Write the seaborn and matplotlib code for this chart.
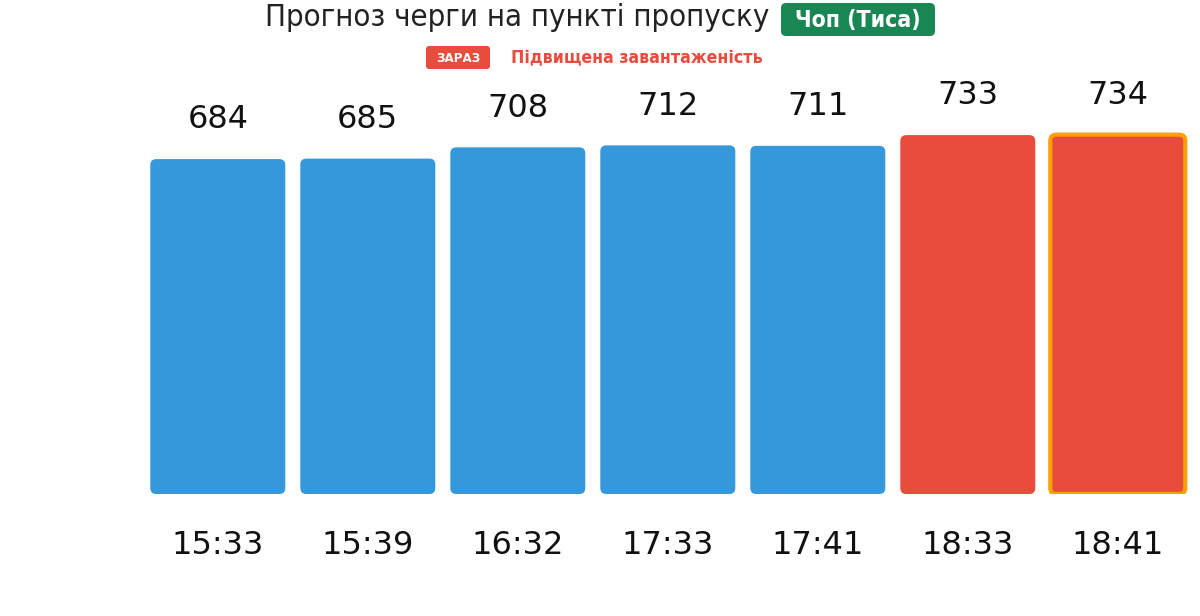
import matplotlib
matplotlib.use('Agg')
import matplotlib.pyplot as plt
import seaborn as sns
import pandas as pd
from matplotlib.patches import FancyBboxPatch

# Chart data
times = ['15:33', '15:39', '16:32', '17:33', '17:41', '18:33', '18:41']
queue = [684, 685, 708, 712, 711, 733, 734]
level = ['normal', 'normal', 'normal', 'normal', 'normal', 'high', 'high']
current_idx = 6

title = 'Прогноз черги на пункті пропуску'
checkpoint = 'Чоп (Тиса)'
now_badge = 'ЗАРАЗ'
status = 'Підвищена завантаженість'

colors = {'normal': '#3498db', 'high': '#e74c3c'}

df = pd.DataFrame({'time': times, 'queue': queue, 'level': level})

sns.set_theme(style='white')
plt.rcParams['font.family'] = ['DejaVu Sans']

W, H = 1200, 616
fig = plt.figure(figsize=(W / 100, H / 100), dpi=100)
ax = fig.add_axes([0.119, 0.198, 0.875, 0.671])

sns.barplot(data=df, x='time', y='queue', hue='level', palette=colors,
            dodge=False, width=0.9, saturation=1, legend=False, ax=ax)

ax.set_xlim(-0.5, len(times) - 0.5)
ax.set_ylim(0, max(queue) * 1.15)

# value labels above the bars
for cont in ax.containers:
    ax.bar_label(cont, padding=17, fontsize=23, color='#111111')

# swap the plain rectangles for rounded ones
fig.canvas.draw()
p0 = ax.transData.transform((0, 0))
p1 = ax.transData.transform((1, 1))
px_x = p1[0] - p0[0]
px_y = p1[1] - p0[1]
radius_px = 6
rx = radius_px / px_x
aspect = (radius_px / px_y) / rx

for bar in list(ax.patches):
    x, y = bar.get_x(), bar.get_y()
    w, h = bar.get_width(), bar.get_height()
    fc = bar.get_facecolor()
    bar.set_visible(False)
    is_now = abs(x + w / 2 - current_idx) < 0.1
    fb = FancyBboxPatch((x, y), w, h,
                        boxstyle=f'round,pad=0,rounding_size={rx}',
                        mutation_aspect=aspect, facecolor=fc,
                        edgecolor='#ffa000' if is_now else 'none',
                        linewidth=3 if is_now else 0, zorder=3)
    ax.add_patch(fb)

sns.despine(ax=ax, left=True, bottom=True)
ax.set_xlabel('')
ax.set_ylabel('')
ax.set_yticks([])
ax.tick_params(axis='x', length=0, pad=26, labelsize=23, labelcolor='#111111')


def badge(x0, y0, x1, y1, color, r=4):
    # pixel box (top-left origin) -> rounded patch in figure coords
    rxf = r / W
    fig.patches.append(FancyBboxPatch(
        (x0 / W, 1 - y1 / H), (x1 - x0) / W, (y1 - y0) / H,
        boxstyle=f'round,pad=0,rounding_size={rxf}', mutation_aspect=W / H,
        transform=fig.transFigure, facecolor=color, edgecolor='none', figure=fig))


# header
fig.text(265 / W, 1 - 18 / H, title, fontsize=22.3, fontstretch='condensed',
         ha='left', va='center', color='#222222')
badge(781, 3, 935, 36, '#198754', r=5)
fig.text(858 / W, 1 - 20 / H, checkpoint, fontsize=16.5, fontweight='bold',
         fontstretch='condensed', color='white', ha='center', va='center')
badge(426, 46, 490, 69, '#e74c3c', r=3)
fig.text(458 / W, 1 - 58 / H, now_badge, fontsize=9.5, fontweight='bold',
         fontstretch='condensed', color='white', ha='center', va='center')
fig.text(511 / W, 1 - 58 / H, status, fontsize=12.7, fontweight='bold',
         fontstretch='condensed', color='#e74c3c', ha='left', va='center')

fig.savefig('out.png', dpi=100, facecolor='white')
